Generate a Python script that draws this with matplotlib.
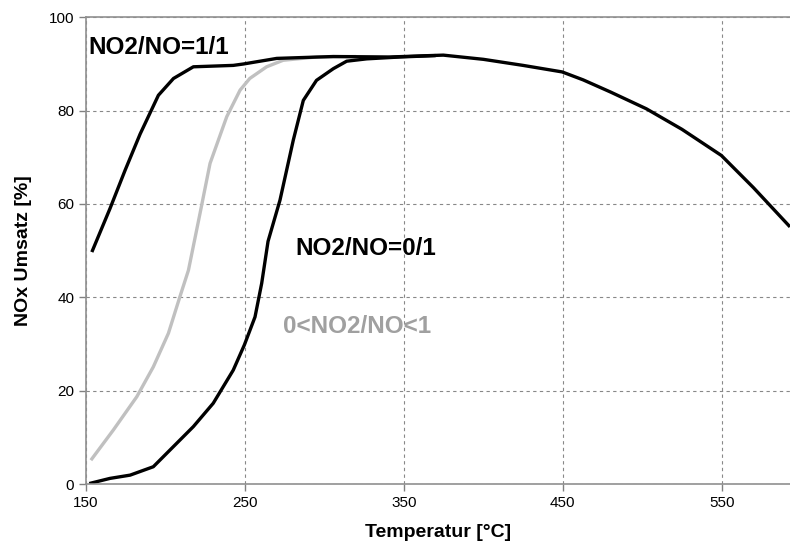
import matplotlib.pyplot as plt
import numpy as np

plt.rcParams['font.family'] = ['Liberation Sans', 'DejaVu Sans']

# NO2/NO = 1/1 (black, full range)
t_11 = [153.6, 165, 174.5, 184, 195.5, 205, 217.5, 242.6, 249, 270, 305.6, 341, 374.8, 400, 425, 449.6, 462.8, 480, 502.6, 525, 549.8, 570, 593]
u_11 = [49.7, 59, 67.2, 75, 83.3, 86.9, 89.4, 89.7, 90, 91.2, 91.6, 91.5, 91.9, 91.0, 89.7, 88.3, 86.6, 84.0, 80.4, 76.0, 70.4, 63.5, 55.1]

# NO2/NO = 0/1 (black, right)
t_01 = [152, 165, 177.7, 192.3, 204.9, 217.5, 230, 242.6, 249.6, 256.3, 260.5, 264.5, 272, 280.4, 286.7, 295, 305.6, 314, 326.6, 347.5, 370]
u_01 = [0.1, 1.2, 1.9, 3.7, 8, 12.3, 17.3, 24.4, 29.8, 35.8, 43, 52, 60.8, 73.7, 82.2, 86.5, 89, 90.6, 91.1, 91.5, 91.8]

# 0 < NO2/NO < 1 (grey)
t_mid = [153, 167.2, 181.9, 192.3, 201.8, 209, 214.4, 221.7, 228, 238.5, 246.9, 253, 263.6, 274, 295, 320]
u_mid = [5.1, 11.6, 18.7, 25.1, 32.3, 40.1, 45.8, 58, 68.7, 78.7, 84.4, 86.9, 89.4, 90.8, 91.5, 91.6]

x_ticks = [150, 250, 350, 450, 550]
y_ticks = [0, 20, 40, 60, 80, 100]

fig = plt.figure(figsize=(7.9, 5.5), dpi=100)
ax = fig.add_axes([0.109, 0.12, 0.891, 0.8485])

ax.plot(t_mid, u_mid, color='#c0c0c0', lw=2.4, solid_capstyle='butt', solid_joinstyle='round')
ax.plot(t_01, u_01, color='black', lw=2.4, solid_capstyle='butt', solid_joinstyle='round')
ax.plot(t_11, u_11, color='black', lw=2.4, solid_capstyle='butt', solid_joinstyle='round')

ax.set_xlim(150, 593)
ax.set_ylim(0, 100)
ax.set_xticks(x_ticks)
ax.set_yticks(y_ticks)
ax.tick_params(labelsize=11, colors='#808080', labelcolor='black', length=5, width=1)
ax.grid(True, linestyle=(0, (3, 3)), color='#888888', lw=0.8)
ax.set_axisbelow(True)

for s in ['left', 'bottom', 'top']:
    ax.spines[s].set_color('#909090')
    ax.spines[s].set_linewidth(1.2)
ax.spines['right'].set_visible(False)

ax.set_xlabel('Temperatur [°C]', fontsize=14, fontweight='bold', labelpad=10)
ax.set_ylabel('NOx Umsatz [%]', fontsize=14, fontweight='bold', labelpad=12)

ax.text(151.3, 93.6, 'NO2/NO=1/1', fontsize=17.5, fontweight='bold', va='center')
ax.text(281.4, 50.5, 'NO2/NO=0/1', fontsize=17.5, fontweight='bold', va='center')
ax.text(273.9, 33.7, '0<NO2/NO<1', fontsize=17.5, fontweight='bold', va='center', color='#a0a0a0')

fig.savefig('out.png', dpi=100)
